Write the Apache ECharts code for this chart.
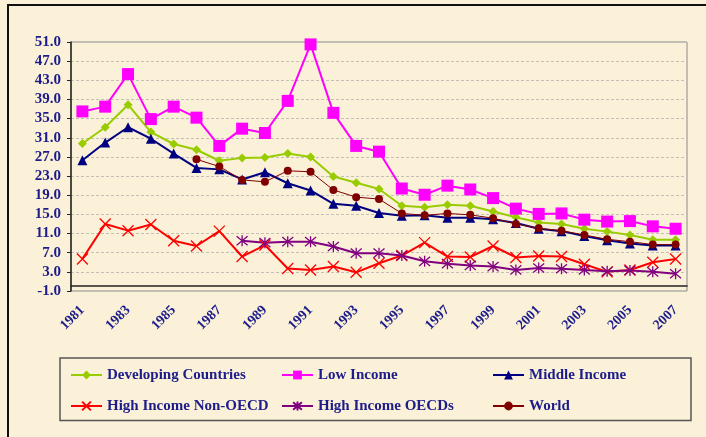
<!DOCTYPE html>
<html>
<head>
    <meta charset="utf-8">
    <script src="https://cdn.jsdelivr.net/npm/echarts@6/dist/echarts.min.js"></script>
    <style>
        html, body { margin: 0; padding: 0; background: #FBF1D8; }
        #main { width: 706px; height: 437px; }
    </style>
</head>
<body>
<div id="main"></div>
<script>
    // 数据
    var years = ['1981', '1982', '1983', '1984', '1985', '1986', '1987', '1988', '1989', '1990',
        '1991', '1992', '1993', '1994', '1995', '1996', '1997', '1998', '1999', '2000',
        '2001', '2002', '2003', '2004', '2005', '2006', '2007'];
    var developing = [29.8, 33.2, 37.9, 32.2, 29.7, 28.5, 26.2, 26.8, 26.9, 27.7, 27.0, 22.9, 21.6, 20.3,
        16.8, 16.5, 17.0, 16.8, 15.6, 14.4, 13.3, 13.0, 12.0, 11.4, 10.7, 9.7, 9.7];
    var lowIncome = [36.5, 37.5, 44.3, 34.9, 37.5, 35.2, 29.3, 32.9, 32.0, 38.7, 50.5, 36.2, 29.3, 28.1,
        20.4, 19.1, 21.0, 20.2, 18.4, 16.2, 15.1, 15.2, 13.9, 13.5, 13.6, 12.5, 12.0];
    var middleIncome = [26.3, 30.0, 33.2, 30.8, 27.7, 24.7, 24.4, 22.3, 23.8, 21.5, 20.0, 17.2, 16.8, 15.3,
        14.7, 14.8, 14.3, 14.3, 14.0, 13.2, 12.0, 11.5, 10.5, 9.6, 8.9, 8.5, 8.5];
    var nonOECD = [5.7, 13.0, 11.6, 12.9, 9.5, 8.4, 11.5, 6.2, 8.6, 3.7, 3.4, 4.1, 2.9, 4.8,
        6.4, 9.1, 6.2, 6.1, 8.4, 6.0, 6.3, 6.2, 4.6, 3.0, 3.4, 5.0, 5.7];
    var oecd = [null, null, null, null, null, null, null, 9.5, 9.1, 9.3, 9.3, 8.3, 6.9, 6.9,
        6.4, 5.2, 4.7, 4.35, 4.1, 3.4, 3.8, 3.65, 3.4, 3.1, 3.3, 3.0, 2.6];
    var world = [null, null, null, null, null, 26.5, 25.0, 22.2, 21.8, 24.1, 23.9, 20.1, 18.6, 18.2,
        15.2, 14.8, 15.2, 14.9, 14.2, 13.0, 12.1, 11.6, 10.7, 9.8, 9.3, 8.7, 8.7];

    var textColor = '#1c1c8a';
    var font = '"Liberation Serif", "DejaVu Serif", serif';
    var crossPath = 'path://M0,0L10,10M10,0L0,10';
    var starPath = 'path://M0,0L10,10M10,0L0,10M5,-1L5,11';

    function line(name, data, color, symbol, size, width, stroke) {
        return {
            name: name,
            type: 'line',
            data: data,
            color: color,
            symbol: symbol,
            symbolSize: size,
            connectNulls: false,
            lineStyle: { width: width, color: color },
            itemStyle: stroke
                ? { color: color, borderColor: color, borderWidth: 1.3 }
                : { color: color, borderWidth: 0 }
        };
    }

    function legend(left, names) {
        return {
            orient: 'vertical',
            left: left,
            top: 367.5,
            padding: 0,
            itemWidth: 31,
            itemHeight: 11,
            itemGap: 16,
            data: names,
            textStyle: { color: textColor, fontSize: 15, fontWeight: 'bold', fontFamily: font }
        };
    }

    var chart = echarts.init(document.getElementById('main'));
    chart.setOption({
        backgroundColor: '#FBF1D8',
        animation: false,
        grid: {
            left: 71, right: 19, top: 42, bottom: 146,
            show: true, borderColor: '#8a8a8a', borderWidth: 1
        },
        graphic: [
            { type: 'rect', shape: { x: 8, y: 5, width: 720, height: 460 },
              style: { fill: 'none', stroke: '#111', lineWidth: 2 }, silent: true },
            { type: 'rect', shape: { x: 60, y: 358, width: 631, height: 62.5 },
              style: { fill: 'none', stroke: '#555', lineWidth: 1.5 }, silent: true }
        ],
        legend: [
            legend(70, ['Developing Countries', 'High Income Non-OECD']),
            legend(281, ['Low Income', 'High Income OECDs']),
            legend(492, ['Middle Income', 'World'])
        ],
        xAxis: {
            type: 'category',
            data: years,
            boundaryGap: true,
            axisLine: { onZero: true, lineStyle: { color: '#222', width: 1.5 } },
            axisTick: { interval: 0, length: 5, lineStyle: { color: '#222' } },
            axisLabel: {
                interval: 1, rotate: 45, margin: 17,
                color: textColor, fontSize: 14, fontWeight: 'bold', fontFamily: font
            }
        },
        yAxis: {
            type: 'value',
            min: -1, max: 51, interval: 4,
            axisLine: { show: true, lineStyle: { color: '#222', width: 1.5 } },
            axisTick: { show: true, length: 4, lineStyle: { color: '#222' } },
            axisLabel: {
                margin: 10,
                formatter: function (v) { return v.toFixed(1); },
                color: textColor, fontSize: 15, fontWeight: 'bold', fontFamily: font
            },
            splitLine: { lineStyle: { color: '#c4c0b6', type: [3, 2] } }
        },
        series: [
            line('Developing Countries', developing, '#99CC00', 'diamond', 9, 2),
            line('Low Income', lowIncome, '#FF00FF', 'rect', 12, 2),
            line('Middle Income', middleIncome, '#000080', 'triangle', 10, 2),
            line('High Income Non-OECD', nonOECD, '#FF0000', crossPath, 11, 2, true),
            line('High Income OECDs', oecd, '#800080', starPath, 11, 2, true),
            line('World', world, '#800000', 'circle', 8, 1)
        ]
    });
</script>
</body>
</html>
